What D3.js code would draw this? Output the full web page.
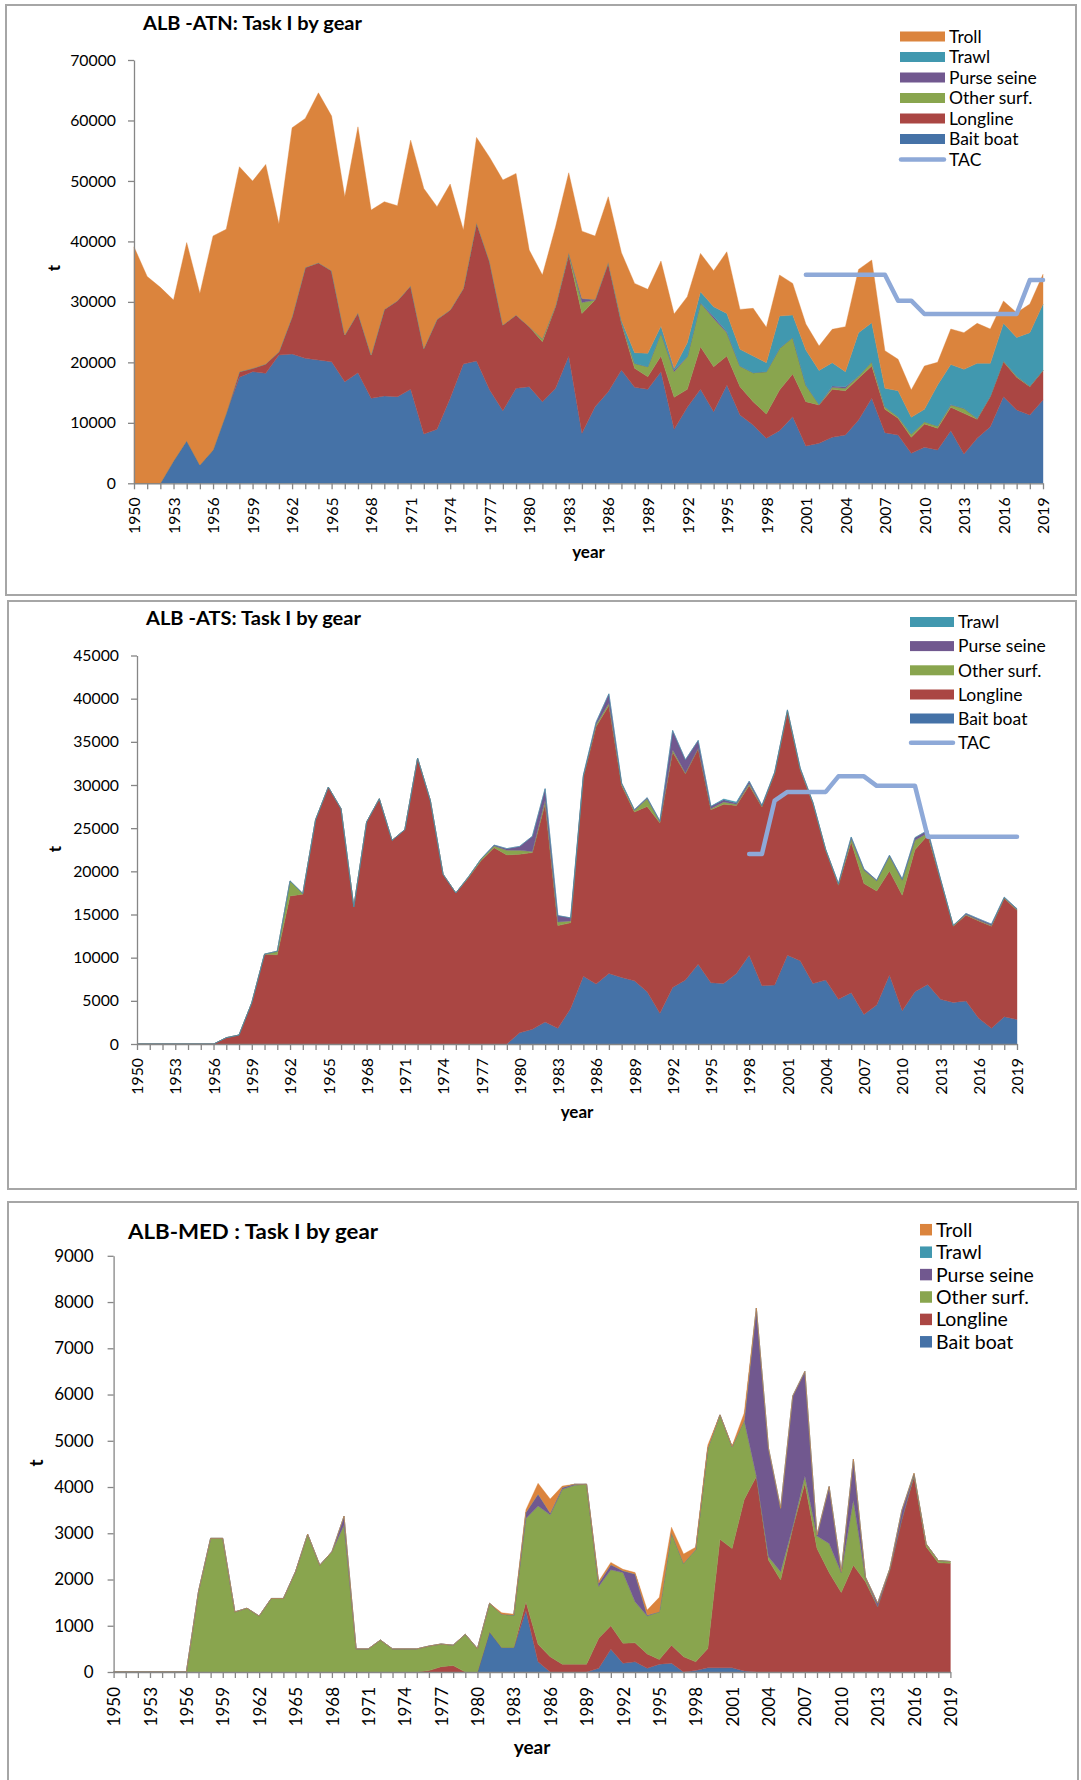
<!DOCTYPE html>
<html><head><meta charset="utf-8">
<script src="https://cdn.jsdelivr.net/npm/d3@7"></script>
<style>
body{margin:0;background:#fff;}
svg{display:block;font-family:Lato, "Open Sans", sans-serif;}
</style></head><body>
<svg id="chart" width="1081" height="1780"></svg>
<script>
const years = [
1950,1951,1952,1953,1954,1955,1956,1957,1958,1959,
1960,1961,1962,1963,1964,1965,1966,1967,1968,1969,
1970,1971,1972,1973,1974,1975,1976,1977,1978,1979,
1980,1981,1982,1983,1984,1985,1986,1987,1988,1989,
1990,1991,1992,1993,1994,1995,1996,1997,1998,1999,
2000,2001,2002,2003,2004,2005,2006,2007,2008,2009,
2010,2011,2012,2013,2014,2015,2016,2017,2018,2019];
const xTickLabels = ["1950","1953","1956","1959","1962","1965","1968","1971","1974","1977","1980","1983",
"1986","1989","1992","1995","1998","2001","2004","2007","2010","2013","2016","2019"];
const gearNames = ["Bait boat","Longline","Other surf.","Purse seine","Trawl","Troll"];
const gearColors = ["#4572A7","#AA4643","#89A54E","#71588F","#4198AF","#DB843D"];
const tacColor = "#8EA9D8";

// ---------- ALB-ATN ----------
const atnBaitBoat = [
0,0,0,3700,7050,3030,5510,11570,17520,18460,
18180,21210,21380,20660,20390,20110,16800,18290,14050,14440,
14330,15540,8150,8930,14050,19720,20220,15430,12010,15700,
15980,13500,15700,21050,8260,12670,15150,18730,15870,15540,
18460,8930,12560,15540,11850,16250,11300,9640,7440,8710,
11020,6170,6610,7600,7990,10470,14050,8380,7990,4960,
5950,5510,8710,4850,7440,9370,14330,12120,11300,13780];
const atnLongline = [
0,0,0,0,0,0,0,0,940,550,
1540,550,6170,15040,16080,15040,7720,9920,7160,14320,
15860,17130,14160,18180,14600,12510,22860,21210,14160,12120,
9920,9920,13500,16690,19840,17630,21220,7700,3140,2090,
2590,5290,2980,7050,7440,4800,4680,3860,4020,6720,
7050,7330,6340,7940,7330,6890,5350,3850,2750,2640,
3860,3580,3850,6720,3140,4960,5780,5400,4680,4840];
const atnOtherSurf = [
0,0,0,0,0,0,0,0,0,0,
0,0,0,0,0,0,0,0,0,0,
0,0,0,0,0,0,0,0,0,0,
0,500,200,300,1800,0,200,300,830,1660,
3860,4240,5400,7270,7980,3860,3420,4790,7000,6890,
6060,2750,100,330,380,380,710,440,280,550,
380,390,390,830,160,110,170,220,110,110];
const atnPurseSeine = [
0,0,0,0,0,0,0,0,0,0,
0,0,0,0,0,0,0,0,0,0,
0,0,0,0,0,0,0,0,0,0,
0,0,0,100,660,80,0,0,0,0,
0,270,0,0,300,160,0,0,0,0,
0,0,0,220,270,0,0,0,0,0,
0,0,100,0,0,0,0,0,0,0];
const atnTrawl = [
0,0,0,0,0,0,0,0,0,0,
0,0,0,0,0,0,0,0,0,0,
0,0,0,0,0,0,0,0,0,0,
0,0,0,0,0,0,0,200,1760,2200,
1100,280,2310,1820,1630,3030,2750,2760,1490,5340,
3700,5790,5620,3860,2490,7170,6450,3030,4300,2760,
2040,6770,6610,6440,9100,5400,6170,6390,8820,10910];
const atnTroll = [
39100,34200,32400,26600,32750,28370,35390,30430,33880,30960,
33010,21100,31240,24630,28100,25570,22860,30740,23970,17800,
15710,24080,26450,18620,20830,9640,14110,17240,23970,23420,
12670,10520,13020,13210,11140,10500,10820,11200,11460,10580,
10740,8980,7610,6340,5950,10190,6610,7880,5840,6780,
5230,4300,4030,5510,7440,10460,10360,6230,5180,4520,
7170,3750,5850,6070,6610,5670,3690,4080,4730,4910];
const atnTAC = [
null,null,null,null,null,null,null,null,null,null,
null,null,null,null,null,null,null,null,null,null,
null,null,null,null,null,null,null,null,null,null,
null,null,null,null,null,null,null,null,null,null,
null,null,null,null,null,null,null,null,null,null,
null,34500,34500,34500,34500,34500,34500,34500,30200,30200,
28000,28000,28000,28000,28000,28000,28000,28000,33600,33600];

// ---------- ALB-ATS ----------
const atsBaitBoat = [
0,0,0,0,0,0,0,0,0,0,
0,0,0,0,0,0,0,0,0,0,
0,0,0,0,0,0,0,0,0,0,
1310,1700,2540,1810,4120,7860,6940,8170,7710,7320,
6050,3550,6550,7400,9250,7090,7020,8170,10290,6750,
6820,10290,9640,7020,7400,5170,5940,3430,4510,7980,
3860,6050,6900,5170,4820,4970,2970,1810,3160,2850];
const atsLongline = [
0,0,0,0,0,0,0,730,1040,4780,
10410,10330,17150,17350,25980,29760,27250,15880,25710,28410,
23590,24830,33110,28220,19660,17500,19280,21270,22740,21900,
20660,20470,25290,11910,9910,23060,29840,31040,22240,19550,
21470,22050,27260,23900,24940,20050,20740,19470,19660,20700,
24480,28140,22130,20810,15040,13220,17460,15150,13220,12070,
13370,16460,17270,13800,8830,9950,11290,11840,13690,12650];
const atsOtherSurf = [
0,0,0,0,0,0,0,0,0,0,
0,420,1740,80,0,0,0,0,0,0,
0,0,0,0,0,0,100,200,200,540,
460,120,390,420,230,80,230,270,190,190,
890,120,270,80,80,120,270,120,190,80,
80,190,120,80,80,80,390,1540,1160,1700,
1730,1080,270,80,80,80,80,80,80,80];
const atsPurseSeine = [
0,0,0,0,0,0,0,0,0,0,
0,0,0,0,0,0,0,0,0,0,
0,0,0,0,0,0,0,0,100,190,
460,1770,1350,730,350,150,270,1080,80,80,
120,120,2240,1540,890,270,270,150,300,120,
120,80,80,80,0,120,190,150,80,120,
150,310,310,80,0,120,150,150,80,80];
const atsTrawl = [
0,0,0,0,0,0,0,0,0,0,
0,0,0,0,0,0,0,0,0,0,
0,0,0,0,0,0,0,0,0,0,
0,0,0,0,0,0,0,0,0,0,
0,0,0,0,0,0,80,120,0,0,
0,0,0,0,0,0,0,0,0,0,
0,0,0,0,0,0,0,0,0,0];
const atsTAC = [
null,null,null,null,null,null,null,null,null,null,
null,null,null,null,null,null,null,null,null,null,
null,null,null,null,null,null,null,null,null,null,
null,null,null,null,null,null,null,null,null,null,
null,null,null,null,null,null,null,null,22000,22000,
28200,29200,29200,29200,29200,31000,31000,31000,29900,29900,
29900,29900,24000,24000,24000,24000,24000,24000,24000,24000];

// ---------- ALB-MED ----------
const medBaitBoat = [
0,0,0,0,0,0,0,0,0,0,
0,0,0,0,0,0,0,0,0,0,
0,0,0,0,0,0,0,0,0,0,
0,870,530,530,1330,220,0,0,0,0,
80,490,190,220,80,170,190,0,30,90,
90,90,20,0,0,0,0,0,0,0,
0,0,0,0,0,0,0,0,0,0];
const medLongline = [
0,0,0,0,0,0,0,0,0,0,
0,0,0,0,0,0,0,0,0,0,
0,0,0,0,0,0,30,115,140,0,
0,0,0,0,190,380,330,170,170,170,
650,510,430,410,310,100,390,330,190,420,
2780,2580,3710,4230,2420,1990,3110,4080,2670,2150,
1720,2310,1950,1410,2200,3300,4230,2710,2360,2350];
const medOtherSurf = [
0,0,0,0,0,0,0,1740,2890,2890,
1300,1380,1210,1590,1590,2170,2980,2310,2600,3180,
500,500,690,500,500,500,530,490,440,815,
505,615,720,700,1800,2990,3070,3780,3870,3890,
1120,1210,1530,890,820,1035,2430,2020,2430,4330,
2690,2200,1710,10,70,180,30,160,270,630,
430,1410,80,0,0,0,30,60,50,40];
const medPurseSeine = [
0,0,0,0,0,0,0,0,0,0,
0,0,0,0,0,0,0,0,0,190,
0,0,0,0,0,0,0,0,0,0,
0,0,0,0,130,260,40,40,20,0,
70,110,40,600,20,0,0,0,0,0,
0,0,0,3630,2350,1370,2830,2260,20,1230,
20,880,20,80,30,200,20,0,0,0];
const medTrawl = [
0,0,0,0,0,0,0,0,0,0,
0,0,0,0,0,0,0,0,0,0,
0,0,0,0,0,0,0,0,0,0,
0,0,0,0,0,0,0,0,0,0,
0,0,0,0,0,0,0,0,0,0,
0,0,0,0,0,0,0,0,0,0,
0,0,0,0,0,0,20,0,0,0];
const medTroll = [
0,0,0,0,0,0,0,0,0,0,
0,0,0,0,0,0,0,0,0,0,
0,0,0,0,0,0,0,0,0,0,
0,0,30,20,60,230,300,30,0,0,
40,50,30,30,110,310,120,200,50,70,
0,15,160,0,0,0,0,0,0,0,
0,0,0,0,0,0,0,0,0,0];

const svg = d3.select("#chart");
const axisColor = "#868686";

function drawPanel(cfg) {
  const g = svg.append("g");
  g.append("rect").attr("x", cfg.box[0]).attr("y", cfg.box[1])
    .attr("width", cfg.box[2]).attr("height", cfg.box[3])
    .attr("fill", "none").attr("stroke", "#a6a6a6").attr("stroke-width", 2);

  const x = d3.scalePoint().domain(years).range([cfg.x0, cfg.x1]);
  const y = d3.scaleLinear().domain([0, cfg.yMax]).range([cfg.yBot, cfg.yTop]);

  const keys = cfg.series.map(s => s.name);
  const rows = years.map((yr, i) => {
    const r = {year: yr};
    cfg.series.forEach(s => { r[s.name] = s.values[i]; });
    return r;
  });
  const stacked = d3.stack().keys(keys)(rows);
  const area = d3.area().x(d => x(d.data.year)).y0(d => y(d[0])).y1(d => y(d[1]));
  g.append("g").selectAll("path").data(stacked).join("path")
    .attr("d", area)
    .attr("fill", (d, i) => cfg.series[i].color)
    .attr("stroke", (d, i) => cfg.series[i].color)
    .attr("stroke-width", 0.4);

  if (cfg.tac) {
    const line = d3.line().defined(d => d.v != null).x(d => x(d.year)).y(d => y(d.v));
    g.append("path").datum(years.map((yr, i) => ({year: yr, v: cfg.tac[i]})))
      .attr("d", line).attr("fill", "none").attr("stroke", tacColor)
      .attr("stroke-width", 4.5).attr("stroke-linecap", "round").attr("stroke-linejoin", "round");
  }

  // Y axis
  const yAxis = d3.axisLeft(y).tickValues(cfg.yTicks).tickSize(6).tickSizeOuter(0)
    .tickPadding(cfg.yPad).tickFormat(d3.format("d"));
  const ya = g.append("g").attr("transform", `translate(${cfg.x0},0)`).call(yAxis);
  ya.attr("font-size", cfg.tickFont).attr("font-family", "Lato");
  ya.selectAll("path,line").attr("stroke", axisColor).attr("stroke-width", 1.3);
  ya.selectAll("text").attr("fill", "#000");

  // X axis
  const xAxis = d3.axisBottom(x).tickSize(6).tickSizeOuter(0)
    .tickFormat(d => xTickLabels.includes(String(d)) ? String(d) : "");
  const xa = g.append("g").attr("transform", `translate(0,${cfg.yBot})`).call(xAxis);
  xa.attr("font-size", cfg.tickFont).attr("font-family", "Lato");
  xa.selectAll("path,line").attr("stroke", axisColor).attr("stroke-width", 1.3);
  xa.selectAll("text").attr("fill", "#000")
    .attr("transform", "rotate(-90)").attr("x", -cfg.xLabelGap).attr("y", 0)
    .attr("dy", "0.36em").attr("text-anchor", "end");

  // Title
  g.append("text").attr("x", cfg.title.x).attr("y", cfg.title.y)
    .attr("font-size", cfg.title.size).attr("font-weight", "bold")
    .attr("textLength", cfg.title.w).attr("lengthAdjust", "spacingAndGlyphs")
    .text(cfg.title.text);

  // axis titles
  g.append("text").attr("transform", `translate(${cfg.tLabel[0]},${cfg.tLabel[1]}) rotate(-90)`)
    .attr("text-anchor", "middle").attr("dy", "0.35em").attr("font-weight", "bold")
    .attr("font-size", cfg.axisTitleFont).text("t");
  g.append("text").attr("x", (cfg.x0 + cfg.x1) / 2).attr("y", cfg.yearY)
    .attr("text-anchor", "middle").attr("dy", "0.35em").attr("font-weight", "bold")
    .attr("font-size", cfg.axisTitleFont).text("year");

  // Legend
  const L = cfg.legend;
  L.items.forEach((it, i) => {
    const cy = L.rows[i];
    if (it.type === "line") {
      g.append("line").attr("x1", L.x + 1).attr("x2", L.x + L.w - 1)
        .attr("y1", cy).attr("y2", cy).attr("stroke", it.color)
        .attr("stroke-width", 4.5).attr("stroke-linecap", "round");
    } else {
      g.append("rect").attr("x", L.x).attr("y", cy - L.h / 2)
        .attr("width", L.w).attr("height", L.h).attr("fill", it.color);
    }
    g.append("text").attr("x", L.tx).attr("y", cy).attr("dy", "0.36em")
      .attr("font-size", L.font).text(it.label);
  });
}

const atnSeries = [atnBaitBoat, atnLongline, atnOtherSurf, atnPurseSeine, atnTrawl, atnTroll]
  .map((v, i) => ({name: gearNames[i], color: gearColors[i], values: v}));
const atsSeries = [atsBaitBoat, atsLongline, atsOtherSurf, atsPurseSeine, atsTrawl]
  .map((v, i) => ({name: gearNames[i], color: gearColors[i], values: v}));
const medSeries = [medBaitBoat, medLongline, medOtherSurf, medPurseSeine, medTrawl, medTroll]
  .map((v, i) => ({name: gearNames[i], color: gearColors[i], values: v}));

function legendItems(idx, withTAC) {
  const items = idx.map(i => ({label: gearNames[i], color: gearColors[i], type: "rect"}));
  if (withTAC) items.push({label: "TAC", color: tacColor, type: "line"});
  return items;
}

drawPanel({
  box: [6, 5, 1070, 590],
  x0: 134, x1: 1043, yTop: 60, yBot: 483.3, yMax: 70000,
  yTicks: [0,10000,20000,30000,40000,50000,60000,70000],
  yPad: 12, xLabelGap: 14, tickFont: 15.8, axisTitleFont: 17,
  series: atnSeries, tac: atnTAC,
  title: {text: "ALB -ATN: Task I by gear", x: 143, y: 29.5, size: 19.5, w: 219},
  tLabel: [54, 268], yearY: 552,
  legend: {x: 900, w: 45, h: 10, tx: 949, font: 17.5,
    rows: [36.5, 57, 77.5, 98, 118.5, 139, 159.6],
    items: legendItems([5,4,3,2,1,0], true)}
});

drawPanel({
  box: [8, 601, 1068, 588],
  x0: 137, x1: 1017, yTop: 655.5, yBot: 1044, yMax: 45000,
  yTicks: [0,5000,10000,15000,20000,25000,30000,35000,40000,45000],
  yPad: 12, xLabelGap: 14, tickFont: 15.8, axisTitleFont: 17,
  series: atsSeries, tac: atsTAC,
  title: {text: "ALB -ATS: Task I by gear", x: 146, y: 625, size: 19.5, w: 215},
  tLabel: [55, 849], yearY: 1112,
  legend: {x: 910, w: 44, h: 10, tx: 958, font: 17.5,
    rows: [622, 646.1, 670.3, 694.5, 718.5, 742.7],
    items: legendItems([4,3,2,1,0], true)}
});

drawPanel({
  box: [8, 1202, 1070, 600],
  x0: 113.6, x1: 950.4, yTop: 1255.8, yBot: 1672, yMax: 9000,
  yTicks: [0,1000,2000,3000,4000,5000,6000,7000,8000,9000],
  yPad: 14, xLabelGap: 15, tickFont: 17, axisTitleFont: 19,
  series: medSeries, tac: null,
  title: {text: "ALB-MED : Task I by gear", x: 128, y: 1239, size: 21, w: 250},
  tLabel: [36, 1463], yearY: 1747,
  legend: {x: 920, w: 12, h: 11.5, tx: 936, font: 19.5,
    rows: [1229.7, 1252.2, 1274.6, 1297, 1319.4, 1341.8],
    items: legendItems([5,4,3,2,1,0], false)}
});
</script>
</body></html>
